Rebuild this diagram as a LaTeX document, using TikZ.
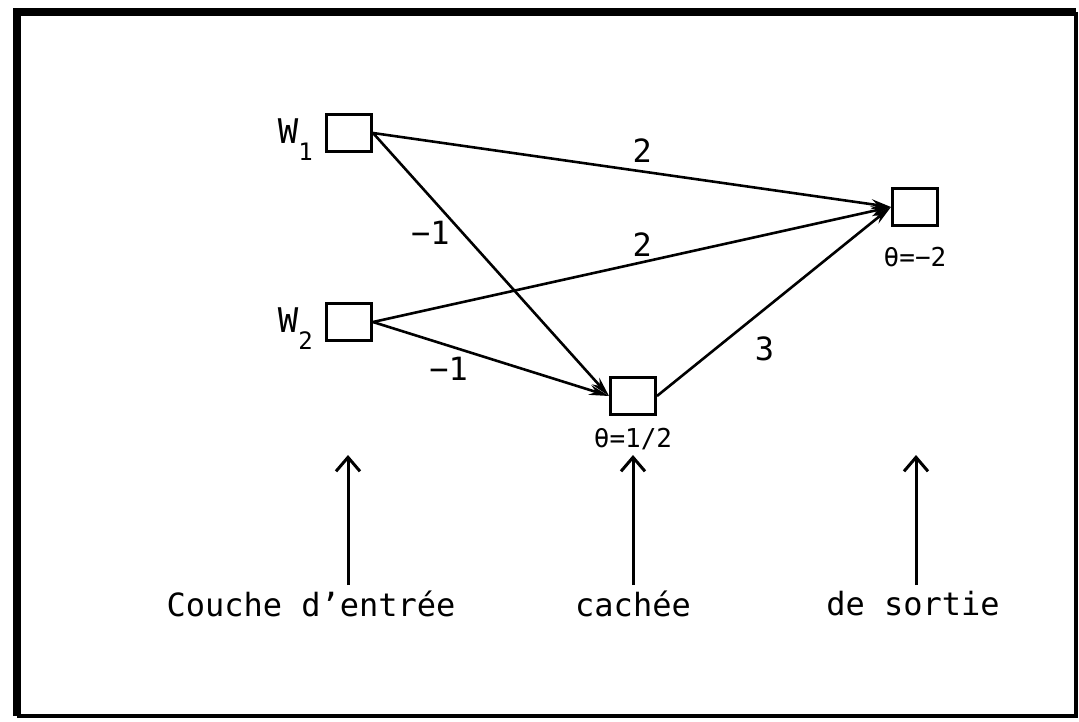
\documentclass[tikz,border=0pt]{standalone}
\usepackage{fontspec}
\usetikzlibrary{arrows.meta,positioning}
\newfontfamily\plotfont{DejaVu Sans Mono}
\newcommand{\wlab}[1]{W\raisebox{-0.5em}[0pt][0pt]{\fontsize{24}{24}\selectfont #1}}
\tikzset{
  unit/.style={draw,line width=3pt,minimum width=45pt,minimum height=37pt,inner sep=0pt},
  edge/.style={->,line width=2.6pt},
  wlabel/.style={font=\plotfont\fontsize{34}{38}\selectfont,inner sep=0pt},
  thlabel/.style={font=\plotfont\fontsize{26}{30}\selectfont,inner sep=0pt},
  layer/.style={font=\plotfont\fontsize{32}{36}\selectfont,inner sep=0pt},
  up/.style={-{Straight Barb[length=14pt,width=24pt,line width=3pt]},line width=3pt}
}
\begin{document}
\begin{tikzpicture}[x=1pt,y=-1pt,>={Stealth[length=20pt,width=10pt]},font=\plotfont\fontsize{32}{36}\selectfont]
	\useasboundingbox (0,0) rectangle (1079,721);
	% frame
	\draw[line width=8pt] (17,716) -- (17,12) -- (1076,12);
	\draw[line width=4pt] (1076,12) -- (1076,716) -- (17,716);
	% units
	\node[unit] (w1) at (349,133) {};
	\node[unit] (w2) at (349,322) {};
	\node[unit] (hid) at (633,396) {};
	\node[unit] (out) at (915,207) {};
	\node[wlabel,left=12pt of w1,yshift=2pt] (lw1) {\wlab{1}};
	\node[wlabel,left=12pt of w2,yshift=2pt] (lw2) {\wlab{2}};
	\node[thlabel,below=12pt of hid] (thh) {θ=1/2};
	\node[thlabel,below=20pt of out] (tho) {θ=−2};
	% weights
	\draw[edge] (w1.east) -- (out.west) node[pos=0.52,above=8pt,inner sep=0pt] {2};
	\draw[edge] (w1.east) -- (hid.west) node[pos=0.33,below left=0pt,inner sep=0pt] {−1};
	\draw[edge] (w2.east) -- (out.west) node[pos=0.52,above=4pt,inner sep=0pt] {2};
	\draw[edge] (w2.east) -- (hid.west) node[pos=0.32,below=10pt,inner sep=0pt] {−1};
	\draw[edge] (hid.east) -- (out.west) node[pos=0.25,right=38pt,inner sep=0pt] {3};
	% layers
	\node[layer] (lin) at (311,604) {Couche d’entrée};
	\node[layer] (lhid) at (633,604) {cachée};
	\node[layer] (lout) at (913,604) {de sortie};
	\coordinate (ain) at (348,585);
	\coordinate (ahid) at (633,585);
	\coordinate (aout) at (916,585);
	\coordinate (tin) at (348,455);
	\coordinate (thid) at (633,455);
	\coordinate (tout) at (916,455);
	\draw[up] (ain) -- (tin);
	\draw[up] (ahid) -- (thid);
	\draw[up] (aout) -- (tout);
\end{tikzpicture}
\end{document}
